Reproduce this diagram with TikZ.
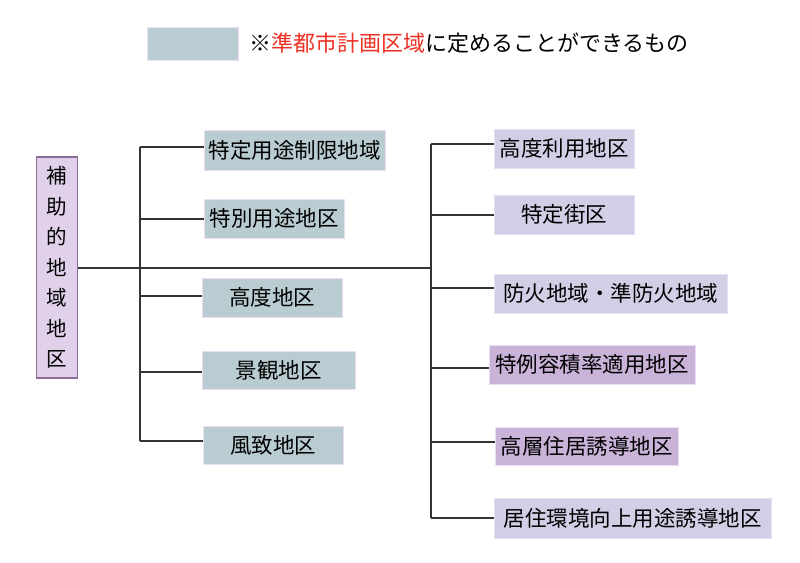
\documentclass[tikz,border=0pt]{standalone}
\usepackage{fontspec}
\setmainfont{Noto Sans CJK JP}
\usepackage{xcolor}
\definecolor{gblue}{HTML}{B9CCD2}
\definecolor{lpurp}{HTML}{D1CFE6}
\definecolor{dpurp}{HTML}{C9B3D9}
\definecolor{lfill}{HTML}{E0D0EA}
\definecolor{lborder}{HTML}{8C6B98}
\definecolor{bborder}{HTML}{EADFF2}
\definecolor{linec}{HTML}{333333}
\definecolor{redtxt}{HTML}{EE3124}
\begin{document}
\begin{tikzpicture}[x=1pt,y=-1pt,
  box/.style={draw=bborder, line width=1pt, inner sep=0pt, align=center,
    font=\fontsize{21.5}{24}\selectfont, text=black},
  gbox/.style={box, fill=gblue},
  lbox/.style={box, fill=lpurp},
  dbox/.style={box, fill=dpurp},
  conn/.style={draw=linec, line width=1.2pt}]
\useasboundingbox (0,0) rectangle (800,562);
\fill[white] (0,0) rectangle (800,562);

% legend
\node[gbox, minimum width=91, minimum height=33] (leg) at (192.5,43.5) {};
\node[anchor=west, inner sep=0pt, font=\fontsize{22}{26}\selectfont] (legt) at (249,43)
  {※\textcolor{redtxt}{準都市計画区域}に定めることができるもの};

% left main node
\node[draw=lborder, line width=1.3pt, fill=lfill, minimum width=41, minimum height=221,
  inner sep=0pt, align=center, font=\fontsize{20.5}{30.5}\selectfont] (L) at (57,267.5)
  {補\\助\\的\\地\\域\\地\\区};

% left column boxes
\node[gbox, minimum width=181, minimum height=40] (A) at (294.5,150) {特定用途制限地域};
\node[gbox, minimum width=140, minimum height=39] (B) at (274,218.5) {特別用途地区};
\node[gbox, minimum width=140, minimum height=39] (C) at (272,297.5) {高度地区};
\node[gbox, minimum width=153, minimum height=38] (D) at (278.5,370) {景観地区};
\node[gbox, minimum width=140, minimum height=38] (E) at (273,445) {風致地区};

% right column boxes
\node[lbox, minimum width=140, minimum height=39] (R1) at (564,148.5) {高度利用地区};
\node[lbox, minimum width=140, minimum height=39] (R2) at (564,214.5) {特定街区};
\node[lbox, minimum width=233, minimum height=39] (R3) at (610.5,293.5) {防火地域・準防火地域};
\node[dbox, minimum width=206, minimum height=39] (R4) at (592,364.5) {特例容積率適用地区};
\node[dbox, minimum width=183, minimum height=38] (R5) at (586.5,446) {高層住居誘導地区};
\node[lbox, minimum width=277, minimum height=40] (R6) at (632.5,518) {居住環境向上用途誘導地区};

% bus coordinates
\coordinate (la) at (140,147);
\coordinate (lb) at (140,219);
\coordinate (lc) at (140,296);
\coordinate (ld) at (140,372);
\coordinate (le) at (140,441);
\coordinate (rm) at (431,268);
\coordinate (r1) at (431,144);
\coordinate (r2) at (431,215);
\coordinate (r3) at (431,288);
\coordinate (r4) at (431,368);
\coordinate (r5) at (431,442);
\coordinate (r6) at (431,518);

% connectors
\draw[conn] (L.east |- rm) -- (rm);
\draw[conn] (la) -- (le);
\draw[conn] (r1) -- (r6);
\draw[conn] (la) -- (la -| A.west);
\draw[conn] (lb) -- (lb -| B.west);
\draw[conn] (lc) -- (lc -| C.west);
\draw[conn] (ld) -- (ld -| D.west);
\draw[conn] (le) -- (le -| E.west);
\draw[conn] (r1) -- (r1 -| R1.west);
\draw[conn] (r2) -- (r2 -| R2.west);
\draw[conn] (r3) -- (r3 -| R3.west);
\draw[conn] (r4) -- (r4 -| R4.west);
\draw[conn] (r5) -- (r5 -| R5.west);
\draw[conn] (r6) -- (r6 -| R6.west);
\end{tikzpicture}
\end{document}
